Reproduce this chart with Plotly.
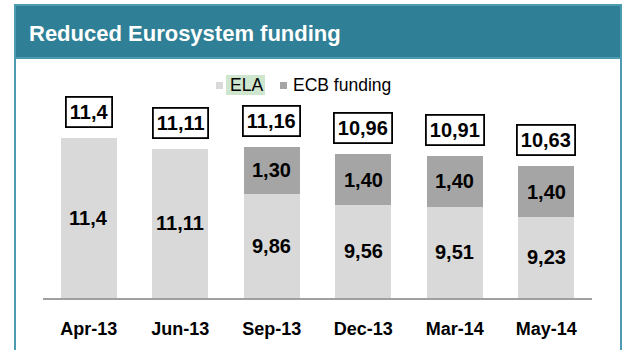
import plotly.graph_objects as go

categories = ["Apr-13", "Jun-13", "Sep-13", "Dec-13", "Mar-14", "May-14"]
ela = [11.4, 11.11, 9.86, 9.56, 9.51, 9.23]
ecb = [None, None, 1.30, 1.40, 1.40, 1.40]
ela_labels = ["11,4", "11,11", "9,86", "9,56", "9,51", "9,23"]
ecb_labels = ["", "", "1,30", "1,40", "1,40", "1,40"]
total_labels = ["11,4", "11,11", "11,16", "10,96", "10,91", "10,63"]
series_names = ["ELA", "ECB funding"]
title_text = "Reduced Eurosystem funding"

ELA_COLOR = "#D9D9D9"
ECB_COLOR = "#A5A5A5"
TEAL = "#2F7F96"
TEAL_BORDER = "#4D9BB0"
FONT = "Liberation Sans, Arial, sans-serif"

W, H = 640, 350
ML, MR, MT, MB = 43, 48, 80, 52
PW, PH = W - ML - MR, H - MT - MB
YMIN, YMAX = 7, 13


def px2x(px):
    return (px - ML) / PW


def px2y(py):
    return (H - MB - py) / PH


fig = go.Figure()
fig.add_trace(go.Bar(x=categories, y=ela, name=series_names[0],
                     marker=dict(color=ELA_COLOR, line=dict(width=0))))
fig.add_trace(go.Bar(x=categories, y=ecb, name=series_names[1],
                     marker=dict(color=ECB_COLOR, line=dict(width=0))))

annotations = []
for i, c in enumerate(categories):
    base = max(YMIN, 0)
    annotations.append(dict(x=c, y=(base + ela[i]) / 2, text="<b>%s</b>" % ela_labels[i],
                            showarrow=False, font=dict(family=FONT, size=20, color="black")))
    total = ela[i] + (ecb[i] or 0)
    if ecb[i]:
        annotations.append(dict(x=c, y=ela[i] + ecb[i] / 2, text="<b>%s</b>" % ecb_labels[i],
                                showarrow=False, font=dict(family=FONT, size=20, color="black")))
    annotations.append(dict(x=c, y=total, yanchor="bottom", yshift=10,
                            text="<b>%s</b>" % total_labels[i], showarrow=False,
                            font=dict(family=FONT, size=20, color="black"),
                            bordercolor="black", borderwidth=1.8, borderpad=3,
                            bgcolor="white"))

# title
annotations.append(dict(xref="paper", yref="paper", x=px2x(27), y=px2y(34),
                        xanchor="left", yanchor="middle", showarrow=False,
                        text="<b>%s</b>" % title_text,
                        font=dict(family=FONT, size=22, color="white")))
# legend text
annotations.append(dict(xref="paper", yref="paper", x=px2x(228), y=px2y(85),
                        xanchor="left", yanchor="middle", showarrow=False,
                        text=series_names[0], font=dict(family=FONT, size=17.5, color="black")))
annotations.append(dict(xref="paper", yref="paper", x=px2x(291), y=px2y(85),
                        xanchor="left", yanchor="middle", showarrow=False,
                        text=series_names[1], font=dict(family=FONT, size=17.5, color="black")))

shapes = [
    # outer frame
    dict(type="rect", xref="paper", yref="paper", layer="below",
         x0=px2x(15), x1=px2x(621), y0=px2y(360), y1=px2y(5),
         line=dict(color=TEAL_BORDER, width=2), fillcolor="white"),
    # title bar
    dict(type="rect", xref="paper", yref="paper", layer="below",
         x0=px2x(15), x1=px2x(621), y0=px2y(58), y1=px2y(5),
         line=dict(color=TEAL_BORDER, width=2), fillcolor=TEAL),
    # highlight behind ELA legend text
    dict(type="rect", xref="paper", yref="paper", layer="below",
         x0=px2x(226), x1=px2x(265), y0=px2y(95), y1=px2y(75),
         line=dict(width=0), fillcolor="#CFE6CE"),
    # legend squares
    dict(type="rect", xref="paper", yref="paper",
         x0=px2x(216), x1=px2x(223), y0=px2y(89), y1=px2y(82),
         line=dict(width=0), fillcolor=ELA_COLOR),
    dict(type="rect", xref="paper", yref="paper",
         x0=px2x(280), x1=px2x(287), y0=px2y(89), y1=px2y(82),
         line=dict(width=0), fillcolor=ECB_COLOR),
]

fig.update_layout(
    width=W, height=H, barmode="stack", bargap=0.39,
    margin=dict(l=ML, r=MR, t=MT, b=MB, pad=0),
    paper_bgcolor="white", plot_bgcolor="rgba(0,0,0,0)",
    showlegend=False, annotations=annotations, shapes=shapes,
    font=dict(family=FONT, color="black"),
)
fig.update_xaxes(showline=True, linecolor="#A0A0A0", linewidth=1.5,
                 ticks="", showgrid=False, ticklabelstandoff=14,
                 tickfont=dict(family=FONT, size=18, color="black", weight="bold"))
fig.update_yaxes(range=[YMIN, YMAX], visible=False, showgrid=False)

fig.write_html("out.html")
